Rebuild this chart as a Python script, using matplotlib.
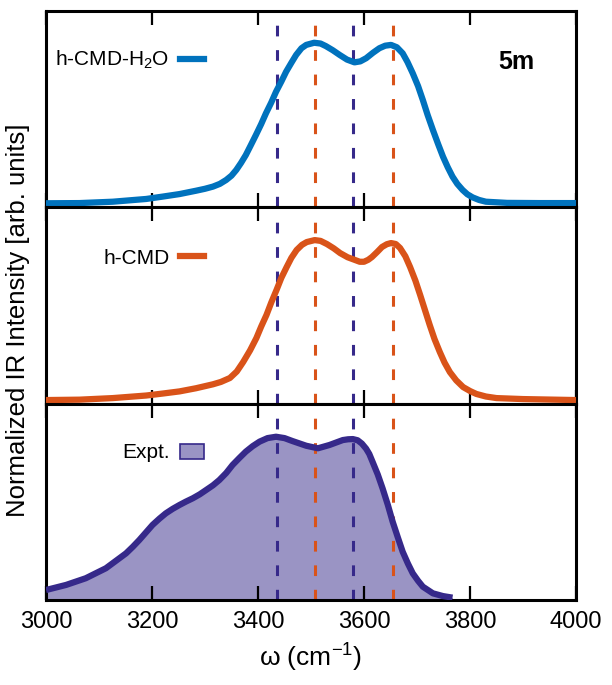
import matplotlib
matplotlib.use("Agg")
import matplotlib.pyplot as plt
from matplotlib.lines import Line2D
from matplotlib.patches import Patch

plt.rcParams['font.family'] = ['Liberation Sans', 'DejaVu Sans']
plt.rcParams['mathtext.fontset'] = 'custom'
plt.rcParams['mathtext.rm'] = 'Liberation Sans'
plt.rcParams['mathtext.it'] = 'Liberation Sans:italic'

# h-CMD-H2O (top panel)
w_h2o = [3000, 3063, 3126, 3189, 3220, 3252, 3283, 3300, 3315, 3328, 3340, 3350, 3359,
         3368, 3377, 3386, 3396, 3406, 3415, 3425, 3434, 3444, 3453, 3463, 3472, 3482,
         3491, 3506, 3518, 3528, 3541, 3554, 3568, 3582, 3593, 3604, 3617, 3629, 3640,
         3651, 3662, 3673, 3682, 3692, 3702, 3711, 3720, 3730, 3740, 3749, 3758, 3767,
         3776, 3786, 3795, 3805, 3817, 3830, 3870, 3930, 4000]
i_h2o = [0.019, 0.020, 0.027, 0.041, 0.053, 0.066, 0.083, 0.093, 0.104, 0.118, 0.138,
         0.160, 0.189, 0.225, 0.265, 0.313, 0.367, 0.423, 0.478, 0.533, 0.588, 0.640,
         0.690, 0.736, 0.776, 0.810, 0.827, 0.838, 0.834, 0.821, 0.800, 0.776, 0.752,
         0.738, 0.743, 0.759, 0.787, 0.810, 0.823, 0.827, 0.815, 0.784, 0.740, 0.682,
         0.617, 0.546, 0.470, 0.393, 0.320, 0.257, 0.203, 0.155, 0.118, 0.087, 0.065,
         0.049, 0.036, 0.027, 0.021, 0.020, 0.020]

# h-CMD (middle panel)
w_cmd = [3000, 3063, 3126, 3189, 3220, 3252, 3283, 3315, 3330, 3347, 3360, 3372, 3385,
         3397, 3406, 3416, 3425, 3435, 3444, 3454, 3463, 3473, 3483, 3492, 3507, 3518,
         3530, 3543, 3555, 3569, 3583, 3592, 3600, 3608, 3615, 3625, 3634, 3643, 3651,
         3660, 3668, 3678, 3687, 3697, 3706, 3715, 3724, 3733, 3743, 3752, 3762, 3774,
         3787, 3800, 3812, 3830, 3850, 3900, 4000]
i_cmd = [0.020, 0.022, 0.030, 0.043, 0.053, 0.064, 0.080, 0.100, 0.112, 0.132, 0.165,
         0.213, 0.272, 0.335, 0.393, 0.452, 0.515, 0.579, 0.640, 0.695, 0.742, 0.782,
         0.808, 0.822, 0.832, 0.828, 0.812, 0.790, 0.766, 0.745, 0.731, 0.722, 0.722,
         0.732, 0.746, 0.772, 0.797, 0.811, 0.817, 0.812, 0.792, 0.750, 0.695, 0.626,
         0.553, 0.477, 0.401, 0.330, 0.264, 0.210, 0.162, 0.120, 0.086, 0.066, 0.051,
         0.038, 0.030, 0.025, 0.020]

# experiment (bottom panel)
w_exp = [3000, 3038, 3075, 3113, 3151, 3164, 3176, 3189, 3201, 3214, 3226, 3239, 3252,
         3264, 3277, 3290, 3302, 3315, 3327, 3340, 3352, 3365, 3377, 3390, 3403, 3418,
         3434, 3450, 3465, 3491, 3513, 3535, 3560, 3570, 3579, 3588, 3596, 3604, 3610,
         3616, 3626, 3635, 3645, 3654, 3664, 3673, 3683, 3692, 3702, 3711, 3730, 3749,
         3767]
i_exp = [0.051, 0.077, 0.111, 0.162, 0.238, 0.272, 0.306, 0.346, 0.383, 0.415, 0.442,
         0.465, 0.485, 0.502, 0.519, 0.539, 0.561, 0.585, 0.612, 0.648, 0.689, 0.725,
         0.757, 0.785, 0.808, 0.826, 0.833, 0.826, 0.811, 0.787, 0.774, 0.791, 0.816,
         0.820, 0.821, 0.815, 0.798, 0.772, 0.745, 0.706, 0.640, 0.570, 0.485, 0.400,
         0.318, 0.246, 0.185, 0.136, 0.098, 0.068, 0.034, 0.020, 0.012]

# reference peak positions (dashed lines)
peaks_purple = [3436, 3580]
peaks_orange = [3507, 3654]

xticks = [3000, 3200, 3400, 3600, 3800, 4000]

BLUE = '#0072BD'
ORANGE = '#D95319'
PURPLE = '#36298A'
FILL = '#9A94C4'

fig = plt.figure(figsize=(6.12, 6.85), dpi=100)
L, W = 46 / 612, 530 / 612
ax1 = fig.add_axes([L, (685 - 207) / 685, W, 196 / 685])
ax2 = fig.add_axes([L, (685 - 404) / 685, W, 197 / 685])
ax3 = fig.add_axes([L, (685 - 600) / 685, W, 196 / 685])

for ax in (ax1, ax2, ax3):
    ax.set_xlim(3000, 4000)
    ax.set_ylim(0, 1)
    ax.set_xticks(xticks)
    ax.set_yticks([])
    ax.tick_params(axis='x', direction='in', top=True, bottom=True,
                   length=10, width=1.6, labelsize=17, pad=8)
    for s in ax.spines.values():
        s.set_linewidth(2.2)
    for p in peaks_purple:
        ax.axvline(p, color=PURPLE, lw=2.2, ls=(0, (3.5, 4.5)), zorder=2)
    for p in peaks_orange:
        ax.axvline(p, color=ORANGE, lw=2.2, ls=(0, (3.5, 4.5)), zorder=2)

ax1.tick_params(labelbottom=False)
ax2.tick_params(labelbottom=False)

line_kw = dict(lw=4.5, solid_joinstyle='round', solid_capstyle='butt', zorder=3)
ax1.plot(w_h2o, i_h2o, color=BLUE, **line_kw)
ax2.plot(w_cmd, i_cmd, color=ORANGE, **line_kw)
ax3.fill_between(w_exp, i_exp, 0, color=FILL, lw=0, zorder=1)
ax3.plot(w_exp, i_exp, color=PURPLE, **line_kw)

leg_kw = dict(loc='center right', frameon=False, markerfirst=False, fontsize=15,
              handlelength=1.15, borderpad=0, borderaxespad=0, handletextpad=0.5)
ax1.legend([Line2D([], [], color=BLUE, lw=4.5)], ['h-CMD-H$_2$O'],
           bbox_to_anchor=(0.298, 0.75), **leg_kw)
ax2.legend([Line2D([], [], color=ORANGE, lw=4.5)], ['h-CMD'],
           bbox_to_anchor=(0.298, 0.74), **leg_kw)
ax3.legend([Patch(facecolor=FILL, edgecolor=PURPLE, lw=1.2)], ['Expt.'],
           bbox_to_anchor=(0.298, 0.75), **leg_kw)

ax1.text(0.887, 0.74, '5m', transform=ax1.transAxes, ha='center', va='center',
         fontsize=18, fontweight='bold')

ax3.set_xlabel('ω (cm$^{-1}$)', fontsize=19, labelpad=6)
fig.text(0.03, (685 - 320) / 685, 'Normalized IR Intensity [arb. units]',
         rotation=90, ha='center', va='center', fontsize=18.5)

fig.savefig('out.png', dpi=100)
